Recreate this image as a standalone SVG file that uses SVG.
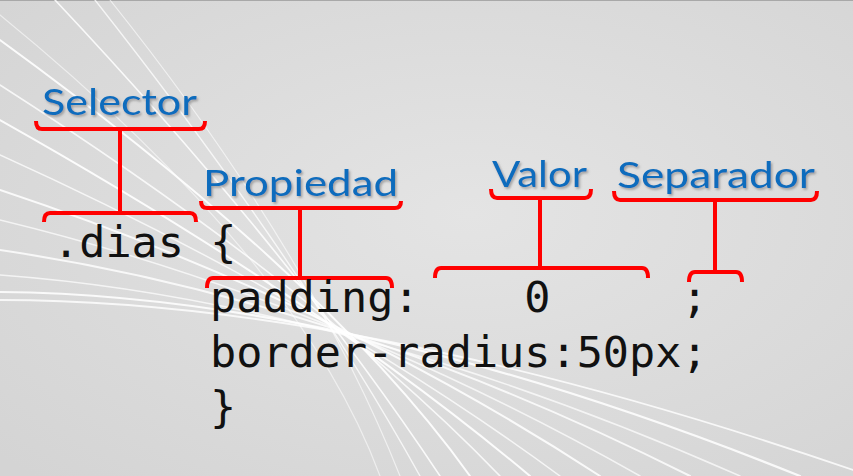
<svg xmlns="http://www.w3.org/2000/svg" width="853" height="476" viewBox="0 0 853 476">
<defs>
<radialGradient id="bg" cx="0.55" cy="0.45" r="0.75">
<stop offset="0" stop-color="#e4e4e4"/>
<stop offset="1" stop-color="#d4d4d4"/>
</radialGradient>
<filter id="sh" x="-10%" y="-20%" width="130%" height="150%">
<feDropShadow dx="1.5" dy="1.8" stdDeviation="0.9" flood-color="#6a6a6a" flood-opacity="0.55"/>
</filter>
</defs>
<style>
.lbl{font-family:"Lato","Open Sans","Liberation Sans",sans-serif;font-size:37px;fill:#0b6cbd;filter:url(#sh)}
.code{font-family:"DejaVu Sans Mono","Liberation Mono",monospace;font-size:43.5px;fill:#111}
.br{fill:none;stroke:#ff0000;stroke-width:4;stroke-linejoin:round;stroke-linecap:butt}
.sw{fill:none;stroke:#ffffff;stroke-linecap:round}
</style>
<rect x="0" y="0" width="853" height="476" fill="url(#bg)"/>
<line x1="0" y1="0.5" x2="853" y2="0.5" stroke="#a8a8a8" stroke-width="1"/>
<g id="swoosh">
<path class="sw" stroke-width="2" opacity="0.9" d="M0 40 Q330 280 470 476"/>
<path class="sw" stroke-width="1.6" opacity="0.8" d="M0 85 Q320 290 500 476"/>
<path class="sw" stroke-width="2" opacity="0.9" d="M0 120 Q320 300 530 476"/>
<path class="sw" stroke-width="1.5" opacity="0.75" d="M0 155 Q320 300 560 476"/>
<path class="sw" stroke-width="2" opacity="0.85" d="M0 190 Q330 300 600 476"/>
<path class="sw" stroke-width="1.5" opacity="0.7" d="M0 220 Q330 300 640 476"/>
<path class="sw" stroke-width="2" opacity="0.8" d="M0 250 Q340 300 690 476"/>
<path class="sw" stroke-width="1.5" opacity="0.7" d="M0 275 Q340 300 740 476"/>
<path class="sw" stroke-width="2.2" opacity="0.85" d="M0 292 Q350 295 800 476"/>
<path class="sw" stroke-width="1.8" opacity="0.8" d="M0 300 Q360 300 853 470"/>
<path class="sw" stroke-width="1.6" opacity="0.85" d="M55 0 Q290 250 440 476"/>
<path class="sw" stroke-width="1.4" opacity="0.75" d="M95 0 Q300 260 420 476"/>
<path class="sw" stroke-width="1.2" opacity="0.6" d="M110 0 Q310 250 400 476"/>
<path class="sw" stroke-width="1.2" opacity="0.55" d="M0 15 Q300 260 380 476"/>
</g>
<g id="connectors">
<path class="br" d="M36 121 Q36 129 42 129 L199 129 Q205 129 205 121"/>
<line class="br" x1="120" y1="129" x2="120" y2="213"/>
<path class="br" d="M44 222 Q44 213 50 213 L190 213 Q196 213 196 222"/>
<path class="br" d="M201 201 Q201 208 207 208 L395 208 Q401 208 401 201"/>
<line class="br" x1="300" y1="208" x2="300" y2="278"/>
<path class="br" d="M207 288 Q207 278 213 278 L386 278 Q392 278 392 288"/>
<path class="br" d="M491 189 Q491 198 497 198 L585 198 Q591 198 591 189"/>
<line class="br" x1="540" y1="198" x2="540" y2="268"/>
<path class="br" d="M435 278 Q435 268 441 268 L642 268 Q648 268 648 278"/>
<path class="br" d="M614 191 Q614 200 620 200 L811 200 Q817 200 817 191"/>
<line class="br" x1="715" y1="200" x2="715" y2="272"/>
<path class="br" d="M689 282 Q689 272 695 272 L736 272 Q742 272 742 282"/>
</g>
<g id="selector"><text class="lbl" x="42" y="115" textLength="155" lengthAdjust="spacingAndGlyphs">Selector</text></g>
<g id="propiedad"><text class="lbl" x="203" y="196" textLength="195" lengthAdjust="spacingAndGlyphs">Propiedad</text></g>
<g id="valor"><text class="lbl" x="492" y="187" textLength="95" lengthAdjust="spacingAndGlyphs">Valor</text></g>
<g id="separador"><text class="lbl" x="617" y="188" textLength="198" lengthAdjust="spacingAndGlyphs">Separador</text></g>
<g id="code">
<text class="code" x="53" y="257" xml:space="preserve">.dias {</text>
<text class="code" x="210" y="312" xml:space="preserve">padding:    0     ;</text>
<text class="code" x="210" y="367" xml:space="preserve">border-radius:50px;</text>
<text class="code" x="210" y="422" xml:space="preserve">}</text>
</g>
</svg>
